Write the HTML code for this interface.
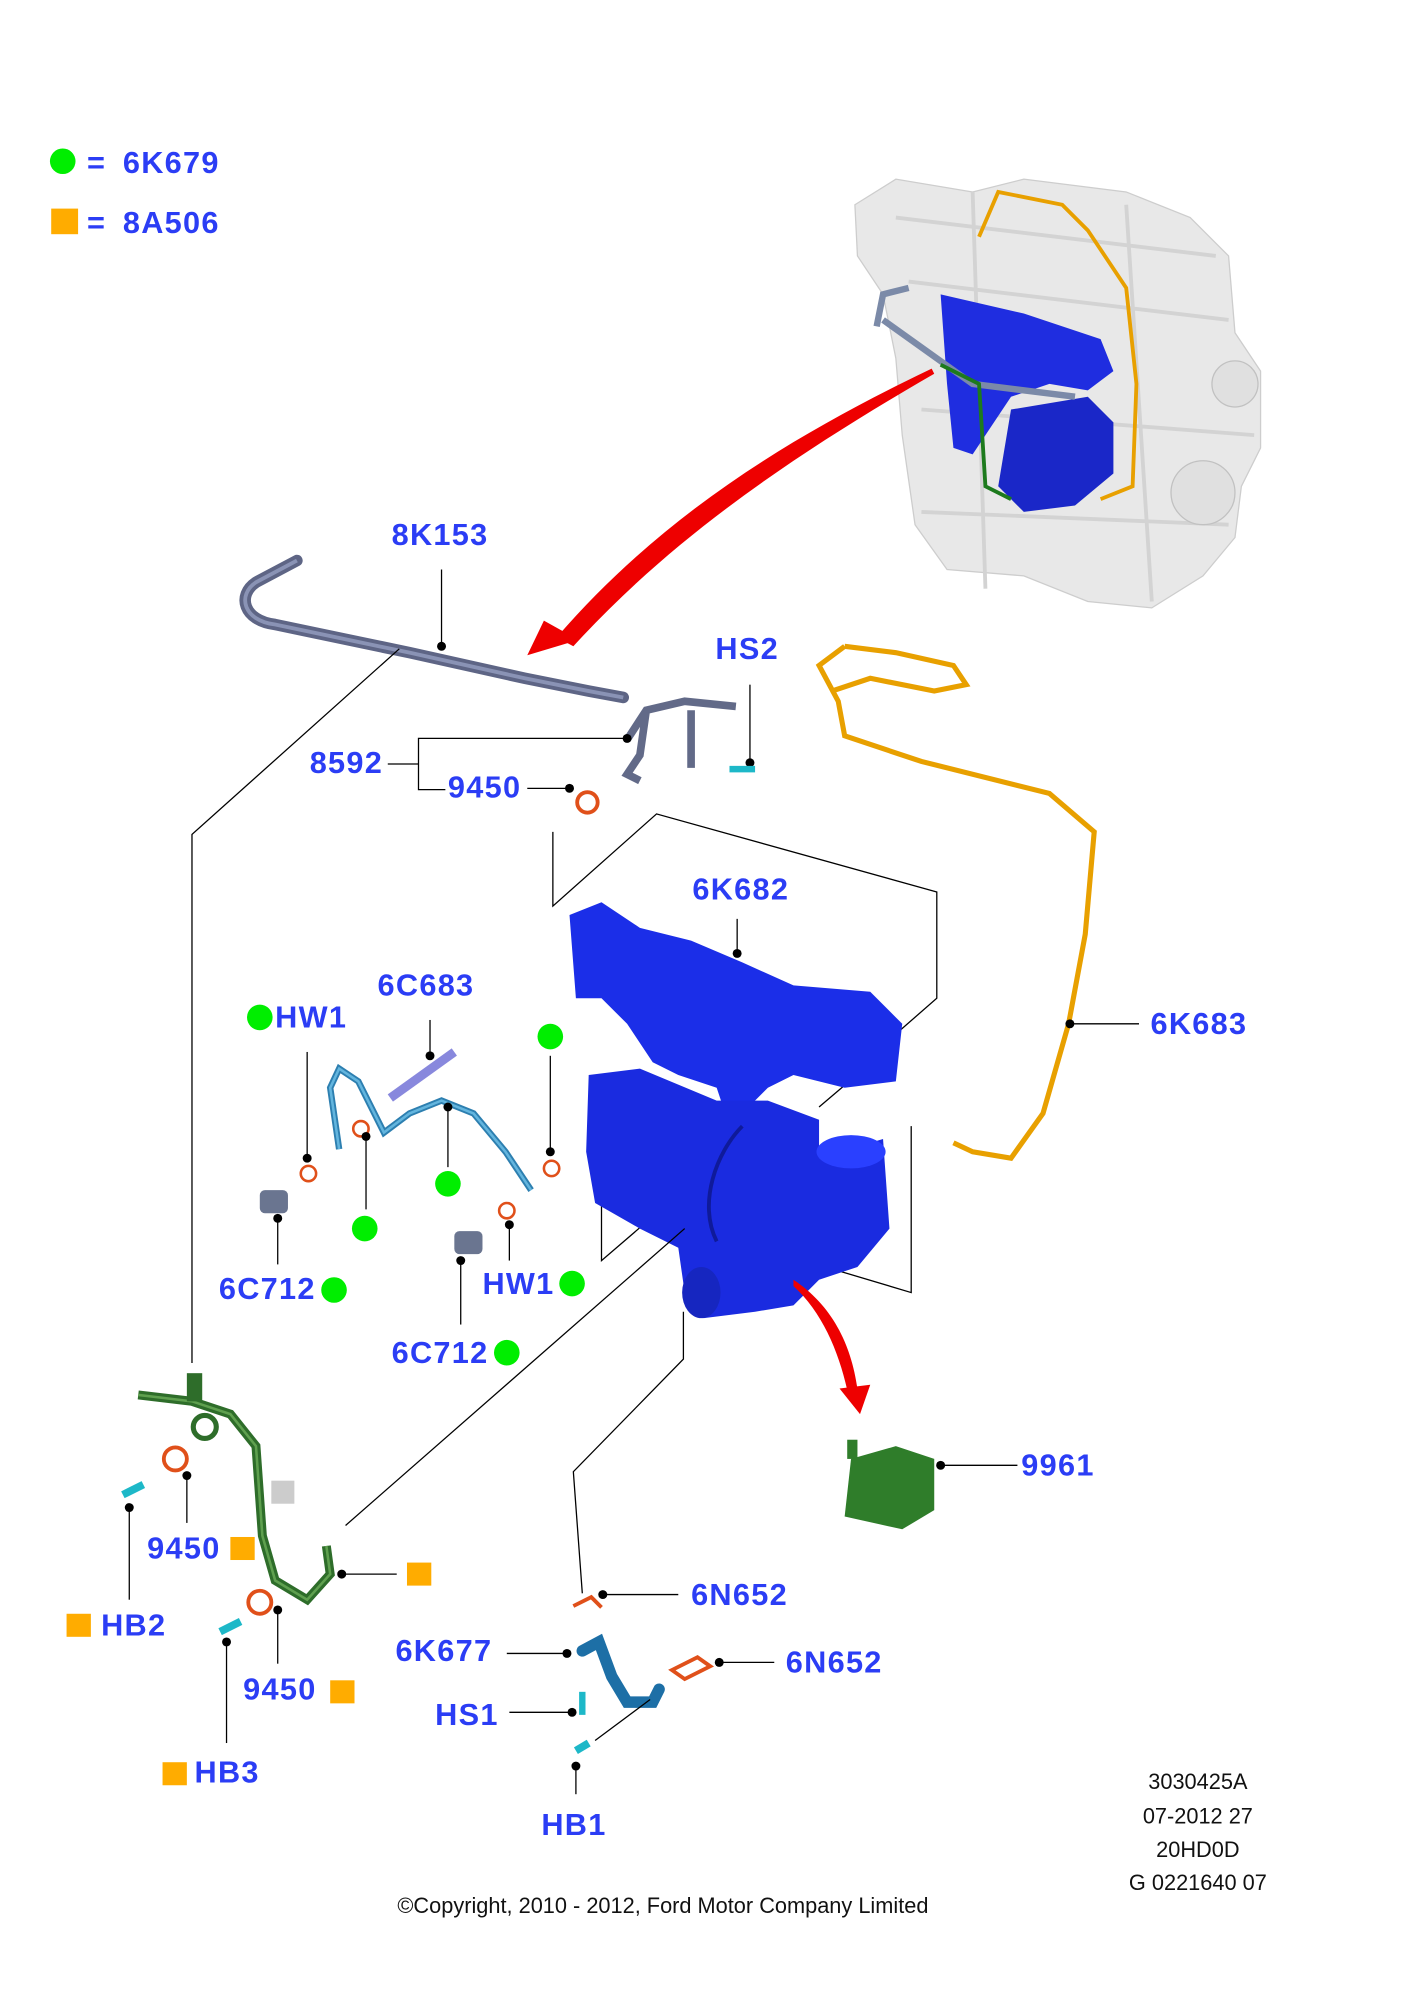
<!DOCTYPE html>
<html><head><meta charset="utf-8"><style>
html,body{margin:0;padding:0;background:#fff}
svg{display:block}
.l{font-family:"Liberation Sans",sans-serif;font-weight:bold;font-size:24px;letter-spacing:1px;fill:#2b3df5}
.t{font-family:"Liberation Sans",sans-serif;font-size:17px;fill:#111}
.ln{stroke:#000;stroke-width:1;fill:none}
</style></head><body>
<svg width="1418" height="2000" viewBox="0 0 1108 1562.8" xmlns="http://www.w3.org/2000/svg">
<rect width="1110" height="1570" fill="#fff"/>
<circle cx="49" cy="126" r="10" fill="#00ee00"/>
<text class="l" x="68" y="135">=</text><text class="l" x="96" y="135">6K679</text>
<rect x="40" y="163" width="21" height="20" fill="#ffac00"/>
<text class="l" x="68" y="182">=</text><text class="l" x="96" y="182">8A506</text>

<g opacity="0.9">
<path d="M668,160 L700,140 L760,150 L800,140 L880,150 L930,170 L960,200 L965,260 L985,290 L985,350 L970,380 L965,420 L940,450 L900,475 L850,470 L800,450 L740,445 L715,410 L705,340 L700,280 L690,230 L670,200 Z" fill="#e6e6e6" stroke="#c8c8c8"/>
<path d="M700,170 L950,200 M710,220 L960,250 M720,320 L980,340 M720,400 L960,410 M760,150 L770,460 M880,160 L900,470" stroke="#cfcfcf" stroke-width="3" fill="none"/>
<circle cx="940" cy="385" r="25" fill="#ddd" stroke="#bbb"/>
<circle cx="965" cy="300" r="18" fill="#ddd" stroke="#bbb"/>
</g>
<path d="M765,185 L780,150 L830,160 L850,180 L880,225 L888,300 L885,380 L860,390" stroke="#e8a000" stroke-width="3" fill="none"/>
<path d="M735,230 L800,245 L860,265 L870,290 L850,305 L820,300 L790,310 L760,355 L745,350 L740,300 Z" fill="#1f2de0"/>
<path d="M790,320 L850,310 L870,330 L870,370 L840,395 L800,400 L780,380 Z" fill="#1a27c8"/>
<path d="M685,255 L690,230 L710,225 M690,250 L760,300 L840,310" stroke="#7b8aa8" stroke-width="5" fill="none"/>
<path d="M735,285 L765,300 L770,380 L790,390" stroke="#1d7a1d" stroke-width="3" fill="none"/>
<path d="M728,288 C620,340 520,400 435,498 L448,505 C530,415 630,350 730,292 Z" fill="#ee0000"/>
<path d="M412,512 L425,485 L452,500 Z" fill="#ee0000"/>

<path d="M232,438 L200,455 C185,465 190,485 215,488 L320,510 L410,530 L460,540 L487,545" stroke="#5e6585" stroke-width="9" fill="none" stroke-linecap="round"/>
<path d="M232,438 L200,455 C185,465 190,485 215,488 L320,510 L410,530 L460,540 L487,545" stroke="#8a93b5" stroke-width="3" fill="none"/>
<text class="l" x="306" y="426">8K153</text>
<line class="ln" x1="345" y1="445" x2="345" y2="505"/><circle cx="345" cy="505" r="3.5"/>
<polyline class="ln" points="312,507 150,652 150,1065"/>
<path d="M490,578 L505,555 L535,548 L575,552 M505,555 L500,590 L490,605 L500,610 M540,555 L540,600" stroke="#626a88" stroke-width="6" fill="none"/>
<text class="l" x="242" y="604">8592</text>
<line class="ln" x1="303" y1="597" x2="327" y2="597"/>
<polyline class="ln" points="490,577 327,577 327,617 348,617"/><circle cx="490" cy="577" r="3.5"/>
<text class="l" x="350" y="623">9450</text>
<line class="ln" x1="412" y1="616" x2="445" y2="616"/><circle cx="445" cy="616" r="3.5"/>
<circle cx="459" cy="627" r="8" fill="none" stroke="#e0501a" stroke-width="3"/>
<text class="l" x="559" y="515">HS2</text>
<line class="ln" x1="586" y1="535" x2="586" y2="596"/><circle cx="586" cy="596" r="3.5"/>
<path d="M570,601 L590,601" stroke="#1db8c8" stroke-width="5"/>

<path d="M660,505 L640,520 L655,548 L660,575 L720,595 L820,620 L855,650 L848,730 L835,800 L815,870 L790,905 L760,900 L745,893" stroke="#e8a000" stroke-width="4" fill="none"/>
<path d="M660,505 L700,510 L745,520 L755,535 L730,540 L680,530 L650,540" stroke="#e8a000" stroke-width="4" fill="none"/>
<text class="l" x="899" y="808">6K683</text>
<line class="ln" x1="836" y1="800" x2="890" y2="800"/><circle cx="836" cy="800" r="3.5"/>

<polyline class="ln" points="432,650 432,708 513,636 732,697 732,780 700,808"/>
<polyline class="ln" points="712,880 712,1010 645,990"/>
<polyline class="ln" points="470,870 470,985 540,925"/>
<polyline class="ln" points="640,865 660,848"/>

<path d="M445,715 L470,705 L500,725 L540,735 L580,752 L620,770 L680,775 L705,800 L700,845 L660,850 L620,840 L600,850 L570,880 L560,850 L530,840 L510,830 L490,800 L470,780 L450,780 Z" fill="#1b2ee8"/>
<path d="M460,840 L500,835 L560,860 L600,860 L640,875 L640,905 L690,890 L695,960 L670,990 L640,1000 L620,1020 L590,1025 L550,1030 L535,1010 L530,975 L500,960 L465,940 L458,900 Z" fill="#1a2be0"/>
<ellipse cx="665" cy="900" rx="27" ry="13" fill="#2a40ff"/>
<ellipse cx="548" cy="1010" rx="15" ry="20" fill="#1626c0"/>
<path d="M580,880 C560,900 545,940 560,970" stroke="#0f1a9a" stroke-width="3" fill="none"/>
<text class="l" x="541" y="703">6K682</text>
<line class="ln" x1="576" y1="718" x2="576" y2="745"/><circle cx="576" cy="745" r="3.5"/>
<path d="M620,1000 C650,1020 665,1050 670,1085 L662,1086 C655,1055 642,1025 620,1005 Z" fill="#ee0000"/>
<path d="M656,1085 L680,1082 L672,1105 Z" fill="#ee0000"/>
<polyline class="ln" points="270,1192 535,960"/>
<polyline class="ln" points="534,1025 534,1062 448,1150 455,1245"/>

<path d="M265,898 L258,850 L265,835 L280,845 L300,885 L320,870 L345,860 L370,870 L395,900 L415,930" stroke="#2d7fb0" stroke-width="5" fill="none"/>
<path d="M265,898 L258,850 L265,835 L280,845 L300,885 L320,870 L345,860 L370,870 L395,900 L415,930" stroke="#63b5de" stroke-width="2" fill="none"/>
<path d="M305,858 L355,822" stroke="#8888dd" stroke-width="7"/>
<text class="l" x="295" y="778">6C683</text>
<line class="ln" x1="336" y1="797" x2="336" y2="825"/><circle cx="336" cy="825" r="3.5"/>
<circle cx="203" cy="795" r="10" fill="#00ee00"/><text class="l" x="215" y="803">HW1</text>
<line class="ln" x1="240" y1="822" x2="240" y2="905"/><circle cx="240" cy="905" r="3.5"/>
<circle cx="241" cy="917" r="6" fill="none" stroke="#e0501a" stroke-width="2"/>
<circle cx="282" cy="882" r="6" fill="none" stroke="#e0501a" stroke-width="2"/>
<circle cx="430" cy="810" r="10" fill="#00ee00"/>
<line class="ln" x1="430" y1="825" x2="430" y2="900"/><circle cx="430" cy="900" r="3.5"/>
<circle cx="431" cy="913" r="6" fill="none" stroke="#e0501a" stroke-width="2"/>
<line class="ln" x1="286" y1="888" x2="286" y2="945"/><circle cx="286" cy="888" r="3.5"/>
<circle cx="285" cy="960" r="10" fill="#00ee00"/>
<line class="ln" x1="350" y1="865" x2="350" y2="912"/><circle cx="350" cy="865" r="3.5"/>
<circle cx="350" cy="925" r="10" fill="#00ee00"/>
<rect x="203" y="930" width="22" height="18" rx="4" fill="#6a7590"/>
<rect x="355" y="962" width="22" height="18" rx="4" fill="#6a7590"/>
<circle cx="396" cy="946" r="6" fill="none" stroke="#e0501a" stroke-width="2"/>
<text class="l" x="171" y="1015">6C712</text><circle cx="261" cy="1008" r="10" fill="#00ee00"/>
<line class="ln" x1="217" y1="952" x2="217" y2="988"/><circle cx="217" cy="952" r="3.5"/>
<text class="l" x="377" y="1011">HW1</text><circle cx="447" cy="1003" r="10" fill="#00ee00"/>
<line class="ln" x1="398" y1="957" x2="398" y2="985"/><circle cx="398" cy="957" r="3.5"/>
<text class="l" x="306" y="1065">6C712</text><circle cx="396" cy="1057" r="10" fill="#00ee00"/>
<line class="ln" x1="360" y1="985" x2="360" y2="1035"/><circle cx="360" cy="985" r="3.5"/>

<path d="M665,1140 L700,1130 L730,1140 L730,1180 L705,1195 L660,1185 Z" fill="#2f7d2a"/>
<rect x="662" y="1125" width="8" height="15" fill="#2f7d2a"/>
<text class="l" x="798" y="1153">9961</text>
<line class="ln" x1="735" y1="1145" x2="795" y2="1145"/><circle cx="735" cy="1145" r="3.5"/>

<path d="M108,1090 L150,1095 L180,1105 L200,1130 L205,1200 L215,1235 L240,1250 L258,1230 L255,1208" stroke="#2e6d2a" stroke-width="7" fill="none"/>
<path d="M108,1090 L150,1095 L180,1105 L200,1130 L205,1200 L215,1235 L240,1250 L258,1230 L255,1208" stroke="#5fa04f" stroke-width="2" fill="none"/>
<rect x="146" y="1073" width="12" height="22" fill="#2e6d2a"/>
<circle cx="160" cy="1115" r="9" fill="none" stroke="#2e6d2a" stroke-width="4"/>
<rect x="212" y="1157" width="18" height="18" fill="#ccc"/>
<circle cx="137" cy="1140" r="9" fill="none" stroke="#e0501a" stroke-width="3"/>
<circle cx="203" cy="1252" r="9" fill="none" stroke="#e0501a" stroke-width="3"/>
<path d="M96,1168 L112,1160" stroke="#1db8c8" stroke-width="6"/>
<path d="M172,1275 L188,1267" stroke="#1db8c8" stroke-width="6"/>
<text class="l" x="115" y="1218">9450</text><rect x="180" y="1201" width="19" height="18" fill="#ffac00"/>
<line class="ln" x1="146" y1="1153" x2="146" y2="1190"/><circle cx="146" cy="1153" r="3.5"/>
<rect x="52" y="1261" width="19" height="18" fill="#ffac00"/><text class="l" x="79" y="1278">HB2</text>
<line class="ln" x1="101" y1="1178" x2="101" y2="1250"/><circle cx="101" cy="1178" r="3.5"/>
<rect x="318" y="1221" width="19" height="18" fill="#ffac00"/>
<line class="ln" x1="267" y1="1230" x2="310" y2="1230"/><circle cx="267" cy="1230" r="3.5"/>
<text class="l" x="190" y="1328">9450</text><rect x="258" y="1313" width="19" height="18" fill="#ffac00"/>
<line class="ln" x1="217" y1="1258" x2="217" y2="1300"/><circle cx="217" cy="1258" r="3.5"/>
<rect x="127" y="1377" width="19" height="18" fill="#ffac00"/><text class="l" x="152" y="1393">HB3</text>
<line class="ln" x1="177" y1="1283" x2="177" y2="1362"/><circle cx="177" cy="1283" r="3.5"/>

<path d="M455,1290 L468,1283 L478,1310 L490,1330 L510,1330 L515,1320" stroke="#1d6fa6" stroke-width="9" fill="none" stroke-linecap="round"/>
<path d="M448,1255 L462,1248 L470,1256" stroke="#e0501a" stroke-width="3" fill="none"/>
<path d="M525,1305 L545,1295 L555,1302 L535,1312 Z" fill="none" stroke="#e0501a" stroke-width="3"/>
<path d="M455,1322 L455,1340" stroke="#1db8c8" stroke-width="5"/>
<path d="M450,1368 L460,1362" stroke="#1db8c8" stroke-width="6"/>
<text class="l" x="540" y="1254">6N652</text>
<line class="ln" x1="471" y1="1246" x2="530" y2="1246"/><circle cx="471" cy="1246" r="3.5"/>
<text class="l" x="309" y="1298">6K677</text>
<line class="ln" x1="396" y1="1292" x2="443" y2="1292"/><circle cx="443" cy="1292" r="3.5"/>
<text class="l" x="614" y="1307">6N652</text>
<line class="ln" x1="562" y1="1299" x2="605" y2="1299"/><circle cx="562" cy="1299" r="3.5"/>
<text class="l" x="340" y="1348">HS1</text>
<line class="ln" x1="398" y1="1338" x2="447" y2="1338"/><circle cx="447" cy="1338" r="3.5"/>
<text class="l" x="423" y="1434">HB1</text>
<line class="ln" x1="450" y1="1380" x2="450" y2="1402"/><circle cx="450" cy="1380" r="3.5"/>
<line class="ln" x1="465" y1="1360" x2="508" y2="1328"/>

<text class="t" x="936" y="1398" text-anchor="middle">3030425A</text>
<text class="t" x="936" y="1425" text-anchor="middle">07-2012 27</text>
<text class="t" x="936" y="1451" text-anchor="middle">20HD0D</text>
<text class="t" x="936" y="1477" text-anchor="middle">G 0221640 07</text>
<text class="t" x="518" y="1495" text-anchor="middle">©Copyright, 2010 - 2012, Ford Motor Company Limited</text>
</svg>
</body></html>
